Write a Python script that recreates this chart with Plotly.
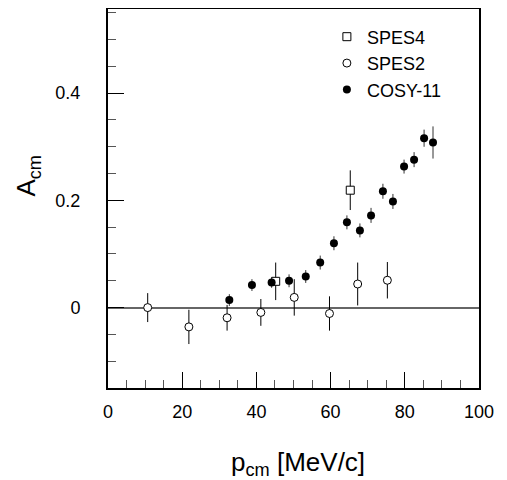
import plotly.graph_objects as go

# COSY-11 (filled circles)
cosy_x = [32.7, 38.8, 44.1, 48.8, 53.3, 57.2, 60.9, 64.4, 67.9, 70.9, 74.1, 76.8, 79.8, 82.5, 85.2, 87.6]
cosy_y = [0.014, 0.042, 0.047, 0.050, 0.058, 0.084, 0.120, 0.159, 0.144, 0.172, 0.217, 0.198, 0.263, 0.276, 0.316, 0.308]
cosy_e = [0.011, 0.011, 0.010, 0.012, 0.012, 0.013, 0.013, 0.013, 0.013, 0.014, 0.014, 0.014, 0.013, 0.014, 0.016, 0.030]

# SPES2 (open circles)
spes2_x = [10.7, 21.8, 32.1, 41.2, 50.2, 59.7, 67.3, 75.3]
spes2_y = [0.000, -0.036, -0.019, -0.009, 0.019, -0.011, 0.044, 0.051]
spes2_e = [0.027, 0.032, 0.024, 0.025, 0.034, 0.032, 0.040, 0.034]

# SPES4 (open squares)
spes4_x = [45.2, 65.3]
spes4_y = [0.049, 0.219]
spes4_e = [0.035, 0.037]

FONT = "Liberation Sans, Arial, Helvetica, sans-serif"

fig = go.Figure()
fig.add_trace(go.Scatter(
    x=spes4_x, y=spes4_y, mode="markers", name="SPES4",
    marker=dict(symbol="square", size=8, color="white", line=dict(color="black", width=1)),
    error_y=dict(type="data", array=spes4_e, visible=True, width=0, thickness=1, color="black"),
))
fig.add_trace(go.Scatter(
    x=spes2_x, y=spes2_y, mode="markers", name="SPES2",
    marker=dict(symbol="circle", size=8, color="white", line=dict(color="black", width=1)),
    error_y=dict(type="data", array=spes2_e, visible=True, width=0, thickness=1, color="black"),
))
fig.add_trace(go.Scatter(
    x=cosy_x, y=cosy_y, mode="markers", name="COSY-11",
    marker=dict(symbol="circle", size=8, color="black"),
    error_y=dict(type="data", array=cosy_e, visible=True, width=0, thickness=1, color="#333333"),
))

# the page body adds an 8px offset, so the figure is drawn 8px smaller
fig.update_layout(
    width=499, height=472,
    margin=dict(l=100, r=28, t=1, b=92, autoexpand=False),
    paper_bgcolor="white", plot_bgcolor="white",
    font=dict(family=FONT, size=18, color="black"),
    showlegend=True,
    legend=dict(x=0.59, y=0.975, xanchor="left", yanchor="top",
                bgcolor="rgba(0,0,0,0)", font=dict(size=18), tracegroupgap=0),
    xaxis=dict(range=[0, 100], tick0=0, dtick=20, ticks="inside", ticklen=16, tickwidth=1,
               tickcolor="black", showline=True, linewidth=2, linecolor="black", mirror=True,
               showgrid=False, zeroline=False, ticklabelstandoff=6,
               minor=dict(dtick=5, ticks="inside", ticklen=8, tickwidth=1, tickcolor="#555555")),
    yaxis=dict(range=[-0.15, 0.557], tick0=0, dtick=0.2, ticks="inside", ticklen=16, tickwidth=1,
               tickcolor="black", showline=True, linewidth=2, linecolor="black", mirror=True,
               showgrid=False, zeroline=True, zerolinecolor="#666666", zerolinewidth=1.5,
               ticklabelstandoff=22,
               minor=dict(dtick=0.05, ticks="inside", ticklen=8, tickwidth=1, tickcolor="#555555")),
    annotations=[
        dict(text="p<sub>cm</sub> [MeV/c]", x=0.511, y=-0.2, xref="paper", yref="paper",
             xanchor="center", yanchor="middle", showarrow=False, font=dict(size=26)),
        dict(text="A<sub>cm</sub>", x=-0.216, y=0.56, xref="paper", yref="paper",
             xanchor="center", yanchor="middle", textangle=-90, showarrow=False, font=dict(size=26)),
    ],
)

fig.write_html("out.html")
